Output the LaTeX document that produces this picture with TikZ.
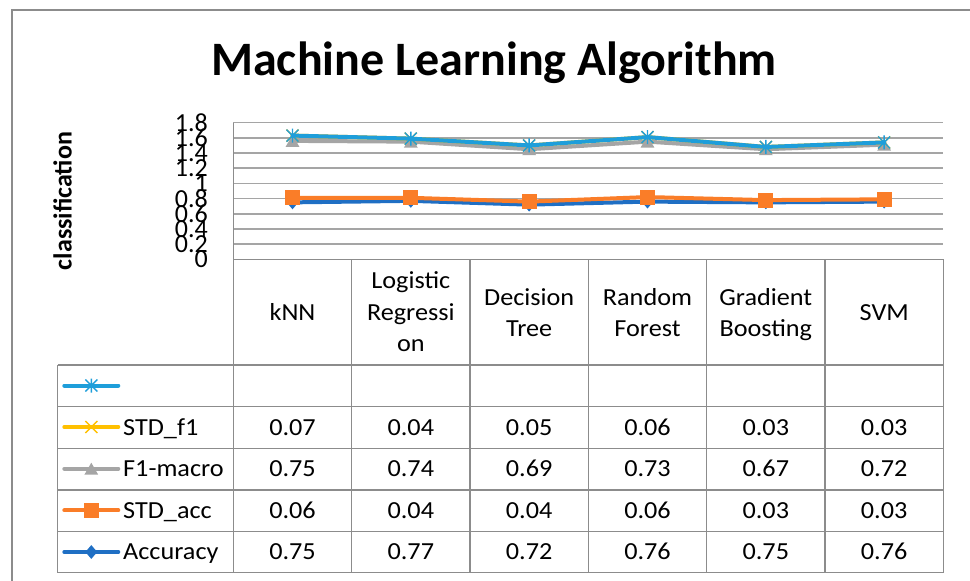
\documentclass[tikz,border=0pt]{standalone}
\usepackage{fontspec}
\setmainfont{Carlito}
\newfontfamily\tabfont[FakeStretch=1.07]{Carlito}
\usetikzlibrary{shapes.geometric}
\definecolor{accblue}{RGB}{31,111,196}
\definecolor{stdorange}{RGB}{250,125,40}
\definecolor{f1gray}{RGB}{165,165,165}
\definecolor{stdyellow}{RGB}{255,192,0}
\definecolor{starblue}{RGB}{30,158,218}
\definecolor{gridgray}{RGB}{165,165,165}
\definecolor{framegray}{RGB}{140,140,140}
\tikzset{
  gridline/.style={gridgray,line width=1.5},
  frameline/.style={framegray,line width=1.5},
  cellline/.style={framegray,line width=1.3},
  series/.style={line width=4,line join=round,line cap=round},
  dmark/.style={diamond,fill=accblue,inner sep=0,minimum width=12,minimum height=14},
  smark/.style={rectangle,fill=stdorange,inner sep=0,minimum size=15},
  tmark/.style={regular polygon,regular polygon sides=3,fill=f1gray,inner sep=0,minimum size=16,yshift=-2pt},
  xmark/.pic={\draw[stdyellow,line width=1.4] (-6,-6)--(6,6) (-6,6)--(6,-6);},
  starmark/.pic={\draw[starblue,line width=1.4] (0,-7)--(0,7) (-6,-6)--(6,6) (-6,6)--(6,-6);},
  cell/.style={font=\tabfont\fontsize{24.5}{28}\selectfont,inner sep=0,anchor=base},
  axlab/.style={font=\fontsize{26}{28}\selectfont,inner sep=0,anchor=east},
}
\begin{document}
\begin{tikzpicture}[x=1pt,y=-1pt]
\useasboundingbox (0,0) rectangle (970,581);
% chart border
\draw[frameline] (12,581) -- (12,10) -- (970,10);
% title
\node[font=\bfseries\fontsize{48}{52}\selectfont,anchor=base,inner sep=0] (title) at (494,75) {Machine Learning Algorithm};
% axis title
\node[font=\bfseries\fontsize{26}{28}\selectfont,rotate=90,anchor=base,inner sep=0] (ytitle) at (71.7,201) {classification};
% gridlines and labels
\foreach \i/\lab in {0/0,1/0.2,2/0.4,3/0.6,4/0.8,5/1,6/1.2,7/1.4,8/1.6,9/1.8}{
  \coordinate (gl\i) at (233.3,{259.3-15.18*\i});
  \coordinate (gr\i) at (943.3,{259.3-15.18*\i});
  \draw[gridline] (gl\i) -- (gr\i);
  \node[axlab] (yl\i) at (208,{259.3-15.18*\i}) {\lab};
}
% table
\foreach \k in {0,...,6}{
  \coordinate (vt\k) at ({233.3+118.33*\k},259.3);
  \coordinate (vb\k) at ({233.3+118.33*\k},572.7);
  \draw[cellline] (vt\k) -- (vb\k);
}
\draw[frameline] (vt0) -- (vt6);
\draw[frameline] (gl9) -- (vt0);
\foreach \r/\yy in {1/365,2/406.7,3/448.3,4/490,5/531.7,6/572.7}{
  \coordinate (hl\r) at (57.7,\yy);
  \coordinate (hr\r) at (943.3,\yy);
  \draw[cellline] (hl\r) -- (hr\r);
}
\draw[cellline] (hl1) -- (hl6);
% header texts
\node[cell] (h1) at (292.5,320) {kNN};
\node[cell] (h2a) at (410.8,288.3) {Logistic};
\node[cell] (h2b) at (410.8,320) {Regressi};
\node[cell] (h2c) at (410.8,351) {on};
\node[cell] (h3a) at (529.2,305) {Decision};
\node[cell] (h3b) at (529.2,336) {Tree};
\node[cell] (h4a) at (647.5,305) {Random};
\node[cell] (h4b) at (647.5,336) {Forest};
\node[cell] (h5a) at (765.8,305) {Gradient};
\node[cell] (h5b) at (765.8,336) {Boosting};
\node[cell] (h6) at (884.2,320) {SVM};
% values
\foreach \row/\yy/\vals in {a/435/{0.07,0.04,0.05,0.06,0.03,0.03},b/476.5/{0.75,0.74,0.69,0.73,0.67,0.72},c/518/{0.06,0.04,0.04,0.06,0.03,0.03},d/559.7/{0.75,0.77,0.72,0.76,0.75,0.76}}{
  \foreach \v [count=\i] in \vals {
    \node[cell] (t\row\i) at ({292.5+118.33*(\i-1)},\yy) {\v};
  }
}
% legend keys
\coordinate (k1a) at (64.3,385.5); \coordinate (k1b) at (118.3,385.5); \coordinate (k1m) at (91.3,385.5);
\coordinate (k2a) at (64.3,427);   \coordinate (k2b) at (118.3,427);   \coordinate (k2m) at (91.3,427);
\coordinate (k3a) at (64.3,468.7); \coordinate (k3b) at (118.3,468.7); \coordinate (k3m) at (91.3,468.7);
\coordinate (k4a) at (64.3,510.3); \coordinate (k4b) at (118.3,510.3); \coordinate (k4m) at (91.3,510.3);
\coordinate (k5a) at (64.3,552);   \coordinate (k5b) at (118.3,552);   \coordinate (k5m) at (91.3,552);
\draw[series,starblue] (k1a) -- (k1b); \pic at (k1m) {starmark};
\draw[series,stdyellow] (k2a) -- (k2b); \pic at (k2m) {xmark};
\draw[series,f1gray] (k3a) -- (k3b); \node[tmark] (lk3) at (k3m) {};
\draw[series,stdorange] (k4a) -- (k4b); \node[smark] (lk4) at (k4m) {};
\draw[series,accblue] (k5a) -- (k5b); \node[dmark] (lk5) at (k5m) {};
\node[cell,anchor=base west] (lt2) at (123,435) {STD\_f1};
\node[cell,anchor=base west] (lt3) at (123,476.5) {F1-macro};
\node[cell,anchor=base west] (lt4) at (123,518) {STD\_acc};
\node[cell,anchor=base west] (lt5) at (123,559.7) {Accuracy};
% series data (stacked)
\foreach \v [count=\i] in {0.75,0.77,0.72,0.76,0.75,0.76} \coordinate (acc\i) at ({292.5+118.33*(\i-1)},{259.3-75.9*\v});
\foreach \v [count=\i] in {0.81,0.81,0.76,0.82,0.78,0.79} \coordinate (sda\i) at ({292.5+118.33*(\i-1)},{259.3-75.9*\v});
\foreach \v [count=\i] in {1.56,1.55,1.45,1.55,1.45,1.51} \coordinate (f1\i) at ({292.5+118.33*(\i-1)},{259.3-75.9*\v});
\foreach \v [count=\i] in {1.63,1.59,1.50,1.61,1.48,1.54} \coordinate (sdf\i) at ({292.5+118.33*(\i-1)},{259.3-75.9*\v});
\draw[series,accblue] (acc1) -- (acc2) -- (acc3) -- (acc4) -- (acc5) -- (acc6);
\foreach \i in {1,...,6} \node[dmark] (accm\i) at (acc\i) {};
\draw[series,stdorange] (sda1) -- (sda2) -- (sda3) -- (sda4) -- (sda5) -- (sda6);
\foreach \i in {1,...,6} \node[smark] (sdam\i) at (sda\i) {};
\draw[series,f1gray] (f11) -- (f12) -- (f13) -- (f14) -- (f15) -- (f16);
\foreach \i in {1,...,6} \node[tmark] (f1m\i) at (f1\i) {};
\draw[series,stdyellow] (sdf1) -- (sdf2) -- (sdf3) -- (sdf4) -- (sdf5) -- (sdf6);
\foreach \i in {1,...,6} \pic at (sdf\i) {xmark};
\draw[series,starblue] (sdf1) -- (sdf2) -- (sdf3) -- (sdf4) -- (sdf5) -- (sdf6);
\foreach \i in {1,...,6} \pic at (sdf\i) {starmark};
\end{tikzpicture}
\end{document}
